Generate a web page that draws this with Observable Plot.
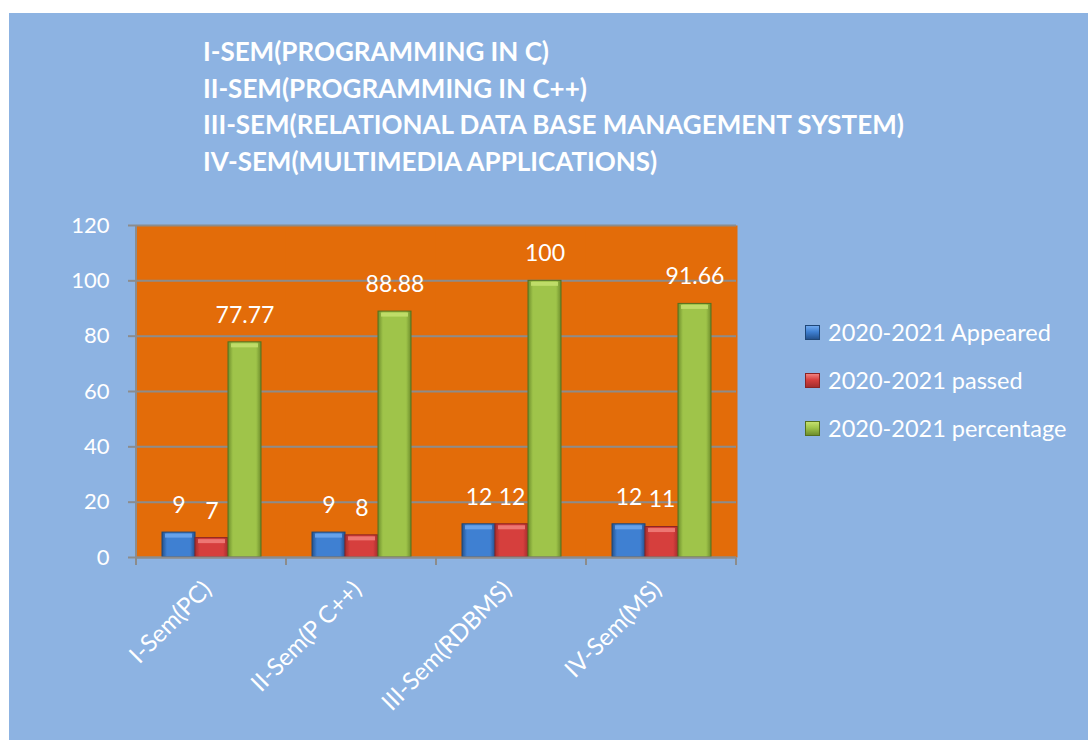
<!DOCTYPE html>
<html>
<head>
<meta charset="utf-8">
<script src="https://cdn.jsdelivr.net/npm/d3@7"></script>
<script src="https://cdn.jsdelivr.net/npm/@observablehq/plot@0.6"></script>
<style>
  body { margin: 0; background: #ffffff; font-family: Lato, "Open Sans", sans-serif; }
  #panel { position: absolute; left: 9px; top: 13px; width: 1079px; height: 727px; background: #8DB3E2; overflow: hidden; }
  #chart { position: absolute; left: 0; top: 0; }
  #title { position: absolute; left: 194px; top: 20px; color: #fff; font-weight: bold; font-size: 26px; line-height: 36.5px; white-space: nowrap; }
  #legend { position: absolute; left: 796px; top: 295px; color: #fff; font-size: 23.5px; }
  .row { height: 48px; display: flex; align-items: center; white-space: nowrap; }
  .sw { width: 15px; height: 15px; margin-right: 8px; box-sizing: border-box; }
</style>
</head>
<body>
<div id="panel">
  <div id="chart"></div>
  <div id="title"></div>
  <div id="legend"></div>
</div>
<script>
// ---- data ----
const titleLines = [
  "I-SEM(PROGRAMMING IN C)",
  "II-SEM(PROGRAMMING IN C++)",
  "III-SEM(RELATIONAL DATA BASE MANAGEMENT SYSTEM)",
  "IV-SEM(MULTIMEDIA APPLICATIONS)"
];
const categories = ["I-Sem(PC)", "II-Sem(P C++)", "III-Sem(RDBMS)", "IV-Sem(MS)"];
const seriesNames = ["2020-2021 Appeared", "2020-2021 passed", "2020-2021 percentage"];
const appeared = [9, 9, 12, 12];
const passed = [7, 8, 12, 11];
const percentage = [77.77, 88.88, 100, 91.66];
const yTicks = [0, 20, 40, 60, 80, 100, 120];

// ---- styles ----
const seriesStyle = [
  {id: "gA", edge: "#24528F", mid: "#3F80D2", top: "#6FA8EE", stroke: "#1F4677"},
  {id: "gP", edge: "#A42D2D", mid: "#D63F3D", top: "#F1817D", stroke: "#8A2424"},
  {id: "gG", edge: "#6E8E2C", mid: "#9FC44A", top: "#C4E06E", stroke: "#55701F"}
];

const valuesBySeries = [appeared, passed, percentage];
const rows = [];
seriesNames.forEach((s, j) => categories.forEach((c, i) => rows.push({cat: c, series: s, value: valuesBySeries[j][i]})));

// title
document.getElementById("title").innerHTML = titleLines.map(t => `<div>${t}</div>`).join("");

// legend
document.getElementById("legend").innerHTML = seriesNames.map((s, j) =>
  `<div class="row"><div class="sw" style="background:linear-gradient(180deg, ${seriesStyle[j].top} 0%, ${seriesStyle[j].mid} 45%, ${seriesStyle[j].edge} 100%);border:1px solid ${seriesStyle[j].stroke}"></div><span>${s}</span></div>`
).join("");

const barMarks = [];
seriesNames.forEach((s, j) => {
  const st = seriesStyle[j];
  const data = rows.filter(d => d.series === s);
  barMarks.push(Plot.barY(data, {fx: "cat", x: "series", y: "value", fill: `url(#${st.id})`, stroke: st.stroke, strokeWidth: 1}));
  barMarks.push(Plot.tickY(data, {fx: "cat", x: "series", y: "value", stroke: st.top, strokeWidth: 4, strokeOpacity: 0.85, dy: 3, insetLeft: 3, insetRight: 3}));
});

const chart = Plot.plot({
  width: 1079,
  height: 727,
  marginLeft: 126,
  marginRight: 351,
  marginTop: 212,
  marginBottom: 183,
  style: {background: "transparent", fontFamily: "Lato, 'Open Sans', sans-serif", overflow: "visible"},
  fx: {domain: categories, padding: 0, label: null},
  x: {domain: seriesNames, paddingInner: 0, paddingOuter: 0.75, axis: null},
  y: {domain: [0, 120], label: null},
  marks: [
    Plot.frame({fill: "#E36C09", insetLeft: -1, insetRight: -1}),
    Plot.gridY(yTicks, {stroke: "#8C8C8C", strokeOpacity: 1, strokeWidth: 2}),
    Plot.axisY(yTicks, {tickSize: 8, tickPadding: 19, stroke: "#8C8C8C", strokeWidth: 2, fill: "white", fontSize: 22, label: null}),
    Plot.axisFx({anchor: "bottom", tickSize: 0, tickRotate: -45, tickPadding: 28, dx: -4, fill: "white", fontSize: 24, label: null}),
    ...barMarks,
    Plot.ruleY([0], {stroke: "#8C8C8C", strokeWidth: 2}),
    Plot.text(rows, {fx: "cat", x: "series", y: "value", text: d => String(d.value), dy: -27, fill: "white", fontSize: 23})
  ]
});

// gradients
const svg = d3.select(chart);
const defs = svg.insert("defs", ":first-child");
seriesStyle.forEach(st => {
  const g = defs.append("linearGradient").attr("id", st.id).attr("x1", "0").attr("x2", "1").attr("y1", "0").attr("y2", "0");
  g.append("stop").attr("offset", "0%").attr("stop-color", st.edge);
  g.append("stop").attr("offset", "15%").attr("stop-color", st.mid);
  g.append("stop").attr("offset", "85%").attr("stop-color", st.mid);
  g.append("stop").attr("offset", "100%").attr("stop-color", st.edge);
});

// left axis line and category boundary ticks, from the fx / y scales
const fx = chart.scale("fx");
const ys = chart.scale("y");
const y0 = ys.apply(0), y120 = ys.apply(120);
const bounds = categories.map(c => fx.apply(c));
bounds.push(fx.apply(categories[categories.length - 1]) + fx.bandwidth);
const deco = svg.append("g").attr("stroke", "#8C8C8C").attr("stroke-width", 2);
deco.append("line").attr("x1", bounds[0]).attr("x2", bounds[0]).attr("y1", y120).attr("y2", y0);
bounds.forEach(b => deco.append("line").attr("x1", b).attr("x2", b).attr("y1", y0).attr("y2", y0 + 8));

document.getElementById("chart").appendChild(chart);
</script>
</body>
</html>
